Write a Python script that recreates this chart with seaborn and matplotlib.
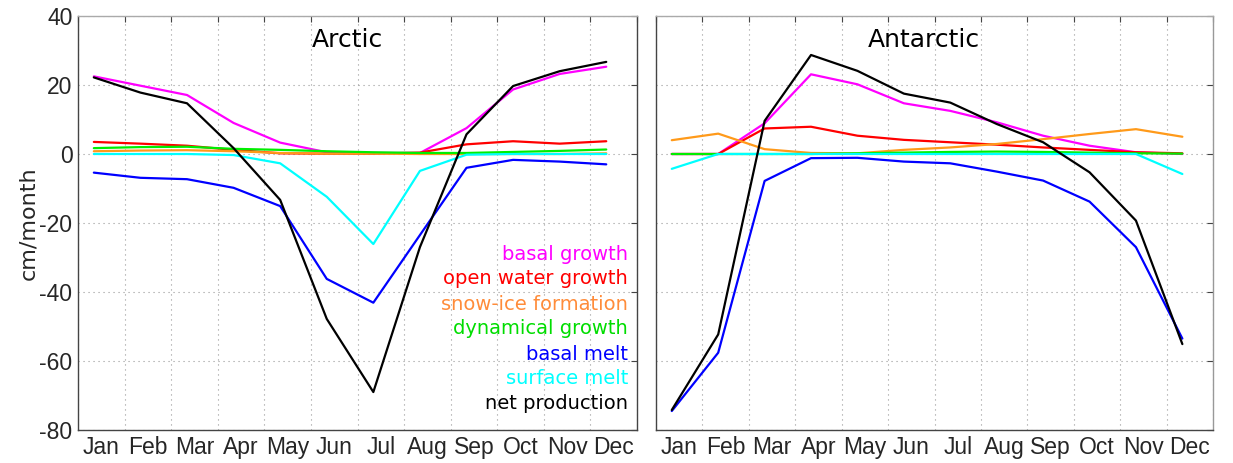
import numpy as np
import pandas as pd
import matplotlib
matplotlib.use("Agg")
import matplotlib.pyplot as plt
import seaborn as sns

months = ["Jan", "Feb", "Mar", "Apr", "May", "Jun", "Jul", "Aug", "Sep", "Oct", "Nov", "Dec"]
series_names = ["basal growth", "open water growth", "snow-ice formation", "dynamical growth",
                "basal melt", "surface melt", "net production"]

# Arctic (cm/month)
arc_basal_growth = [22.5, 19.8, 17.1, 9.0, 3.3, 0.5, 0.3, 0.3, 7.5, 18.7, 23.2, 25.3]
arc_open_water = [3.5, 3.0, 2.4, 1.2, 0.2, 0.1, 0.1, 0.4, 2.8, 3.7, 3.0, 3.7]
arc_snow_ice = [0.8, 1.0, 1.1, 0.8, 0.3, 0.1, 0.1, 0.0, 0.0, 0.0, 0.0, 0.2]
arc_dynamical = [1.7, 2.0, 2.1, 1.5, 1.2, 0.8, 0.5, 0.3, 0.3, 0.6, 0.9, 1.3]
arc_basal_melt = [-5.4, -6.9, -7.3, -9.8, -15.1, -36.2, -43.1, -23.5, -4.0, -1.7, -2.2, -3.0]
arc_surface_melt = [0.0, 0.0, 0.0, -0.3, -2.7, -12.4, -26.1, -4.9, -0.2, 0.0, 0.0, 0.0]
arc_net = [22.2, 17.8, 14.7, 1.7, -13.3, -47.8, -69.0, -27.0, 5.7, 19.7, 24.0, 26.7]

# Antarctic (cm/month)
ant_basal_growth = [0.0, 0.0, 8.9, 23.1, 20.2, 14.7, 12.5, 9.2, 5.3, 2.4, 0.5, 0.0]
ant_open_water = [0.0, 0.0, 7.4, 7.9, 5.3, 4.1, 3.4, 2.7, 1.9, 1.2, 0.5, 0.2]
ant_snow_ice = [4.0, 5.9, 1.4, 0.3, 0.2, 1.2, 1.9, 2.9, 4.3, 5.8, 7.2, 5.0]
ant_dynamical = [0.0, 0.0, 0.0, 0.0, 0.2, 0.4, 0.6, 0.7, 0.6, 0.4, 0.2, 0.1]
ant_basal_melt = [-74.5, -57.6, -7.8, -1.2, -1.1, -2.2, -2.7, -5.1, -7.7, -13.8, -27.0, -53.5]
ant_surface_melt = [-4.3, 0.0, 0.0, 0.0, 0.0, 0.0, 0.0, 0.0, 0.0, 0.0, 0.0, -5.8]
ant_net = [-74.2, -52.3, 9.6, 28.7, 24.1, 17.5, 14.9, 8.7, 3.4, -5.3, -19.3, -55.1]

yticks = [40, 20, 0, -20, -40, -60, -80]

line_colors = ["#ff00ff", "#ff0000", "#ff9a1a", "#00ee00", "#0000ff", "#00ffff", "#000000"]
text_colors = ["#ff00ff", "#ff0000", "#ff8c3a", "#00dd00", "#0000ff", "#00ffff", "#000000"]

def make_df(vals):
    rows = []
    x = np.arange(12) + 0.34
    for name, v in zip(series_names, vals):
        for xi, vi in zip(x, v):
            rows.append({"x": xi, "value": vi, "series": name})
    return pd.DataFrame(rows)

arc_df = make_df([arc_basal_growth, arc_open_water, arc_snow_ice, arc_dynamical,
                  arc_basal_melt, arc_surface_melt, arc_net])
ant_df = make_df([ant_basal_growth, ant_open_water, ant_snow_ice, ant_dynamical,
                  ant_basal_melt, ant_surface_melt, ant_net])

sns.set_theme(style="white")
plt.rcParams["font.family"] = ["DejaVu Sans"]
plt.rcParams["axes.unicode_minus"] = False

fig = plt.figure(figsize=(12.33, 4.63), dpi=100)
ax1 = fig.add_axes([78 / 1233, 1 - 430 / 463, 559 / 1233, 414 / 463])
ax2 = fig.add_axes([656 / 1233, 1 - 430 / 463, 557 / 1233, 414 / 463])

palette = dict(zip(series_names, line_colors))

for ax, df, title in [(ax1, arc_df, "Arctic"), (ax2, ant_df, "Antarctic")]:
    sns.lineplot(data=df, x="x", y="value", hue="series", hue_order=series_names,
                 palette=palette, legend=False, ax=ax, linewidth=1.6, sort=False)
    ax.set_xlim(0, 12)
    ax.set_ylim(-80, 40)
    ax.set_xticks(np.arange(13))
    ax.set_xticklabels([])
    ax.set_xticks(np.arange(12) + 0.5, minor=True)
    ax.set_xticklabels(months, minor=True, fontfamily="Liberation Sans", fontsize=16.5)
    ax.set_yticks(yticks)
    ax.tick_params(axis="both", which="major", direction="in", length=4, width=0.8,
                   top=True, right=True, color="#444444")
    ax.tick_params(axis="x", which="minor", length=0, pad=4)
    ax.tick_params(axis="y", which="major", pad=4)
    ax.grid(True, which="major", linestyle=(0, (1, 3.5)), color="#999999", linewidth=0.8)
    ax.set_xlabel("")
    ax.set_ylabel("")
    for s in ["left", "bottom", "right"]:
        ax.spines[s].set_color("#444444")
        ax.spines[s].set_linewidth(1.0)
    ax.spines["top"].set_color("#aaaaaa")
    ax.spines["top"].set_linewidth(1.0)
    ax.text(5.78, 33, title, ha="center", va="center", fontsize=18, color="black")

for lbl in ax1.get_yticklabels():
    lbl.set_fontfamily("Liberation Sans")
    lbl.set_fontsize(16.5)
ax2.set_yticklabels([])
ax2.spines["right"].set_color("#999999")

ax1.set_ylabel("cm/month", fontsize=16, labelpad=1)

legend_y = [-30.6, -37.7, -45.1, -52.3, -59.6, -66.7, -73.9]
for name, col, yv in zip(series_names, text_colors, legend_y):
    ax1.text(11.81, yv, name, ha="right", va="baseline", fontsize=14, color=col)

fig.savefig("out.png", dpi=100)
